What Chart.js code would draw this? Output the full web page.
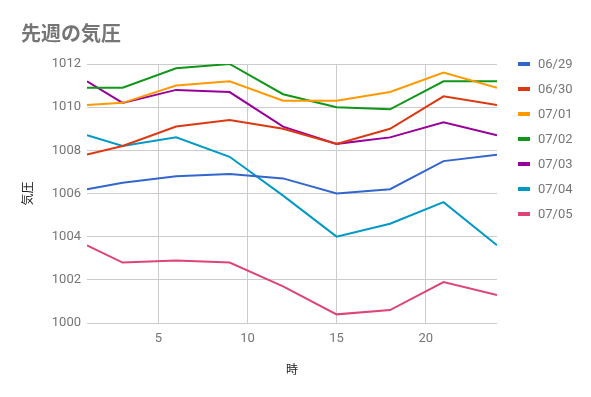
<!DOCTYPE html>
<html>
<head>
<meta charset="utf-8">
<script src="https://cdn.jsdelivr.net/npm/chart.js@4"></script>
<style>
  body { margin: 0; background: #fff; }
  canvas { display: block; }
</style>
</head>
<body>
<canvas id="chart" width="591" height="397"></canvas>
<script>
// Hours of the day (x values)
const hours = [1, 3, 6, 9, 12, 15, 18, 21, 24];
const days = ["06/29", "06/30", "07/01", "07/02", "07/03", "07/04", "07/05"];
const p0629 = [1006.2, 1006.5, 1006.8, 1006.9, 1006.7, 1006.0, 1006.2, 1007.5, 1007.8];
const p0630 = [1007.8, 1008.2, 1009.1, 1009.4, 1009.0, 1008.3, 1009.0, 1010.5, 1010.1];
const p0701 = [1010.1, 1010.2, 1011.0, 1011.2, 1010.3, 1010.3, 1010.7, 1011.6, 1010.9];
const p0702 = [1010.9, 1010.9, 1011.8, 1012.0, 1010.6, 1010.0, 1009.9, 1011.2, 1011.2];
const p0703 = [1011.2, 1010.2, 1010.8, 1010.7, 1009.1, 1008.3, 1008.6, 1009.3, 1008.7];
const p0704 = [1008.7, 1008.2, 1008.6, 1007.7, 1005.9, 1004.0, 1004.6, 1005.6, 1003.6];
const p0705 = [1003.6, 1002.8, 1002.9, 1002.8, 1001.7, 1000.4, 1000.6, 1001.9, 1001.3];
const xTicks = [5, 10, 15, 20];

const series = [p0629, p0630, p0701, p0702, p0703, p0704, p0705];
const colors = ["#3366cc", "#dc3912", "#ff9900", "#109618", "#990099", "#0099c6", "#dd4477"];

const gray = "#757575";
const numFont = { family: "Roboto", size: 13 };

// title + legend drawn on the canvas
const decorPlugin = {
    id: "decor",
    afterDraw(chart) {
        const ctx = chart.ctx;
        ctx.save();
        ctx.fillStyle = gray;
        ctx.font = "bold 20px 'Noto Sans CJK JP'";
        ctx.textBaseline = "middle";
        ctx.textAlign = "left";
        ctx.fillText("先週の気圧", 21, 33);

        ctx.font = "13px Roboto";
        chart.data.datasets.forEach((ds, i) => {
            const y = 64 + i * 25;
            ctx.fillStyle = ds.borderColor;
            ctx.fillRect(518, y - 2, 12, 4);
            ctx.fillStyle = gray;
            ctx.fillText(ds.label, 538, y + 1);
        });
        ctx.restore();
    }
};

new Chart(document.getElementById("chart").getContext("2d"), {
    type: "line",
    data: {
        datasets: days.map((d, i) => ({
            label: d,
            data: hours.map((h, j) => ({ x: h, y: series[i][j] })),
            borderColor: colors[i],
            backgroundColor: colors[i],
            borderWidth: 2,
            pointRadius: 0,
            tension: 0
        }))
    },
    options: {
        responsive: false,
        animation: false,
        layout: { padding: { left: 0, top: 64, right: 94, bottom: 0 } },
        plugins: {
            legend: { display: false },
            title: { display: false },
            tooltip: { enabled: false }
        },
        scales: {
            x: {
                type: "linear",
                min: 1,
                max: 24,
                afterBuildTicks: (axis) => { axis.ticks = xTicks.map(v => ({ value: v })); },
                afterFit: (axis) => { axis.height = 74; },
                grid: { color: "#cccccc", drawTicks: false },
                border: { display: false },
                ticks: { color: gray, font: numFont, padding: 8, maxRotation: 0, callback: (v) => String(v) },
                title: {
                    display: true,
                    text: "時",
                    color: "#222",
                    font: { family: "'Noto Sans CJK JP'", size: 12 },
                    padding: { top: 0, bottom: 20 }
                }
            },
            y: {
                min: 1000,
                max: 1012,
                afterFit: (axis) => { axis.width = 87; },
                grid: { color: "#cccccc", drawTicks: false },
                border: { display: false },
                ticks: { stepSize: 2, color: gray, font: numFont, padding: 6, callback: (v) => String(v) },
                title: {
                    display: true,
                    text: "気圧",
                    color: "#222",
                    font: { family: "'Noto Sans CJK JP'", size: 12 },
                    padding: { top: 20, bottom: 0 }
                }
            }
        }
    },
    plugins: [decorPlugin]
});
</script>
</body>
</html>
